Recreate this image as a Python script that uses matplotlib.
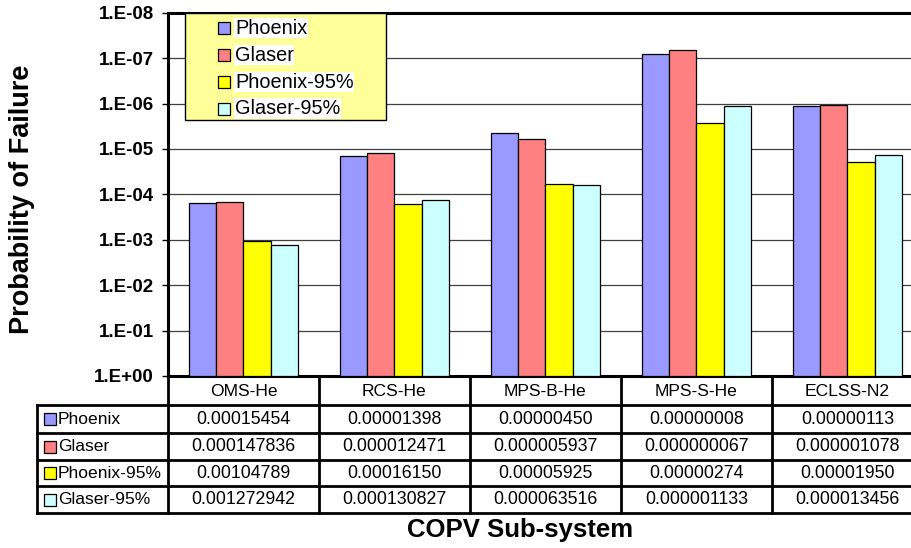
import numpy as np
import matplotlib
matplotlib.use("Agg")
import matplotlib.pyplot as plt
from matplotlib.patches import Rectangle
from matplotlib.ticker import FixedLocator, FuncFormatter, NullLocator

plt.rcParams["font.family"] = ["Liberation Sans", "DejaVu Sans"]

categories = ["OMS-He", "RCS-He", "MPS-B-He", "MPS-S-He", "ECLSS-N2"]
series = ["Phoenix", "Glaser", "Phoenix-95%", "Glaser-95%"]
phoenix = [0.00015454, 0.00001398, 0.00000450, 0.00000008, 0.00000113]
glaser = [0.000147836, 0.000012471, 0.000005937, 0.000000067, 0.000001078]
phoenix_95 = [0.00104789, 0.00016150, 0.00005925, 0.00000274, 0.00001950]
glaser_95 = [0.001272942, 0.000130827, 0.000063516, 0.000001133, 0.000013456]
decimals = [8, 9, 8, 9]
colors = ["#9999FF", "#FF8080", "#FFFF00", "#CCFFFF"]
values = [phoenix, glaser, phoenix_95, glaser_95]

W, H = 912, 548
fig = plt.figure(figsize=(W / 100, H / 100), dpi=100)
ax_l, ax_t, ax_b = 168, 12.7, 376
col_w = 151
ax = fig.add_axes([ax_l / W, 1 - ax_b / H, 5 * col_w / W, (ax_b - ax_t) / H])
ax_h = ax_b - ax_t

def ay(py):
    # pixel row -> axes fraction
    return (ax_b - py) / ax_h

def dx(px):
    # pixel column -> data x
    return (px - ax_l) / col_w - 0.5

x = np.arange(len(categories))
bw = 0.182
offsets = [-1.5 * bw, -0.5 * bw, 0.5 * bw, 1.5 * bw]
for vals, off, c in zip(values, offsets, colors):
    v = np.array(vals)
    ax.bar(x + off, v - 1, bottom=1, width=bw, color=c,
           edgecolor="black", linewidth=0.9, zorder=3)

ax.set_yscale("log")
ax.set_ylim(1, 1e-8)
ax.set_xlim(-0.5, 4.5)
ax.yaxis.set_major_locator(FixedLocator([10.0 ** -k for k in range(9)]))
ax.yaxis.set_minor_locator(NullLocator())
ax.yaxis.set_major_formatter(
    FuncFormatter(lambda v, p: "1.E{:+03d}".format(int(round(np.log10(v))))))
ax.tick_params(axis="y", length=4, width=1, pad=6, labelsize=13.5)
for t in ax.get_yticklabels():
    t.set_fontweight("bold")
ax.set_xticks([])
ax.yaxis.grid(True, color="#404040", linewidth=0.9, zorder=0)
ax.set_axisbelow(True)
for s in ["left", "top", "bottom"]:
    ax.spines[s].set_linewidth(2.2)
ax.spines["right"].set_visible(False)

# legend box drawn by hand, Excel style
ax.add_patch(Rectangle((dx(185), ay(120)), (386 - 185) / col_w, ay(13) - ay(120),
                       transform=ax.get_xaxis_transform(), facecolor="#FFFF99",
                       edgecolor="black", linewidth=1, zorder=5, clip_on=False))
leg_y = [28, 55, 82, 108.5]
for name, c, py in zip(series, colors, leg_y):
    ax.plot([dx(224)], [ay(py)], marker="s", ms=8.5, mfc=c, mec="black", mew=0.9,
            transform=ax.get_xaxis_transform(), zorder=6, clip_on=False)
    ax.text(dx(235), ay(py), name, fontsize=14.3, va="center", ha="left",
            transform=ax.get_xaxis_transform(), zorder=6,
            bbox=dict(facecolor="white", edgecolor="none", pad=0.5))

# data table below the axis
tr = ax.get_xaxis_transform()
row_lines = [405, 433, 460, 486, 513]
left_x = dx(37)
lw = 2.0
kw = dict(color="black", linewidth=lw, transform=tr, clip_on=False, solid_capstyle="projecting")
for py in row_lines:
    ax.plot([left_x, 4.5], [ay(py), ay(py)], **kw)
for xb in np.arange(-0.5, 5.0, 1.0):
    ax.plot([xb, xb], [0, ay(513)], **kw)
ax.plot([left_x, left_x], [ay(405), ay(513)], **kw)

for i, cat in enumerate(categories):
    ax.text(i, ay(391.5), cat, fontsize=12.6, ha="center", va="center", transform=tr)

for r, (name, c, vals, d) in enumerate(zip(series, colors, values, decimals)):
    py = (row_lines[r] + row_lines[r + 1]) / 2
    ax.plot([dx(50)], [ay(py)], marker="s", ms=8, mfc=c, mec="black", mew=0.9,
            transform=tr, clip_on=False)
    ax.text(dx(58), ay(py), name, fontsize=12.6, ha="left", va="center", transform=tr)
    for i, v in enumerate(vals):
        ax.text(i, ay(py), f"{v:.{d}f}", fontsize=12.8, ha="center", va="center",
                transform=tr)

fig.text(520 / W, 1 - 530 / H, "COPV Sub-system", fontsize=18.5, fontweight="bold",
         ha="center", va="center")
fig.text(22 / W, 1 - 199 / H, "Probability of Failure", fontsize=19.5, fontweight="bold",
         ha="center", va="center", rotation=90)

fig.savefig("out.png", dpi=100)
